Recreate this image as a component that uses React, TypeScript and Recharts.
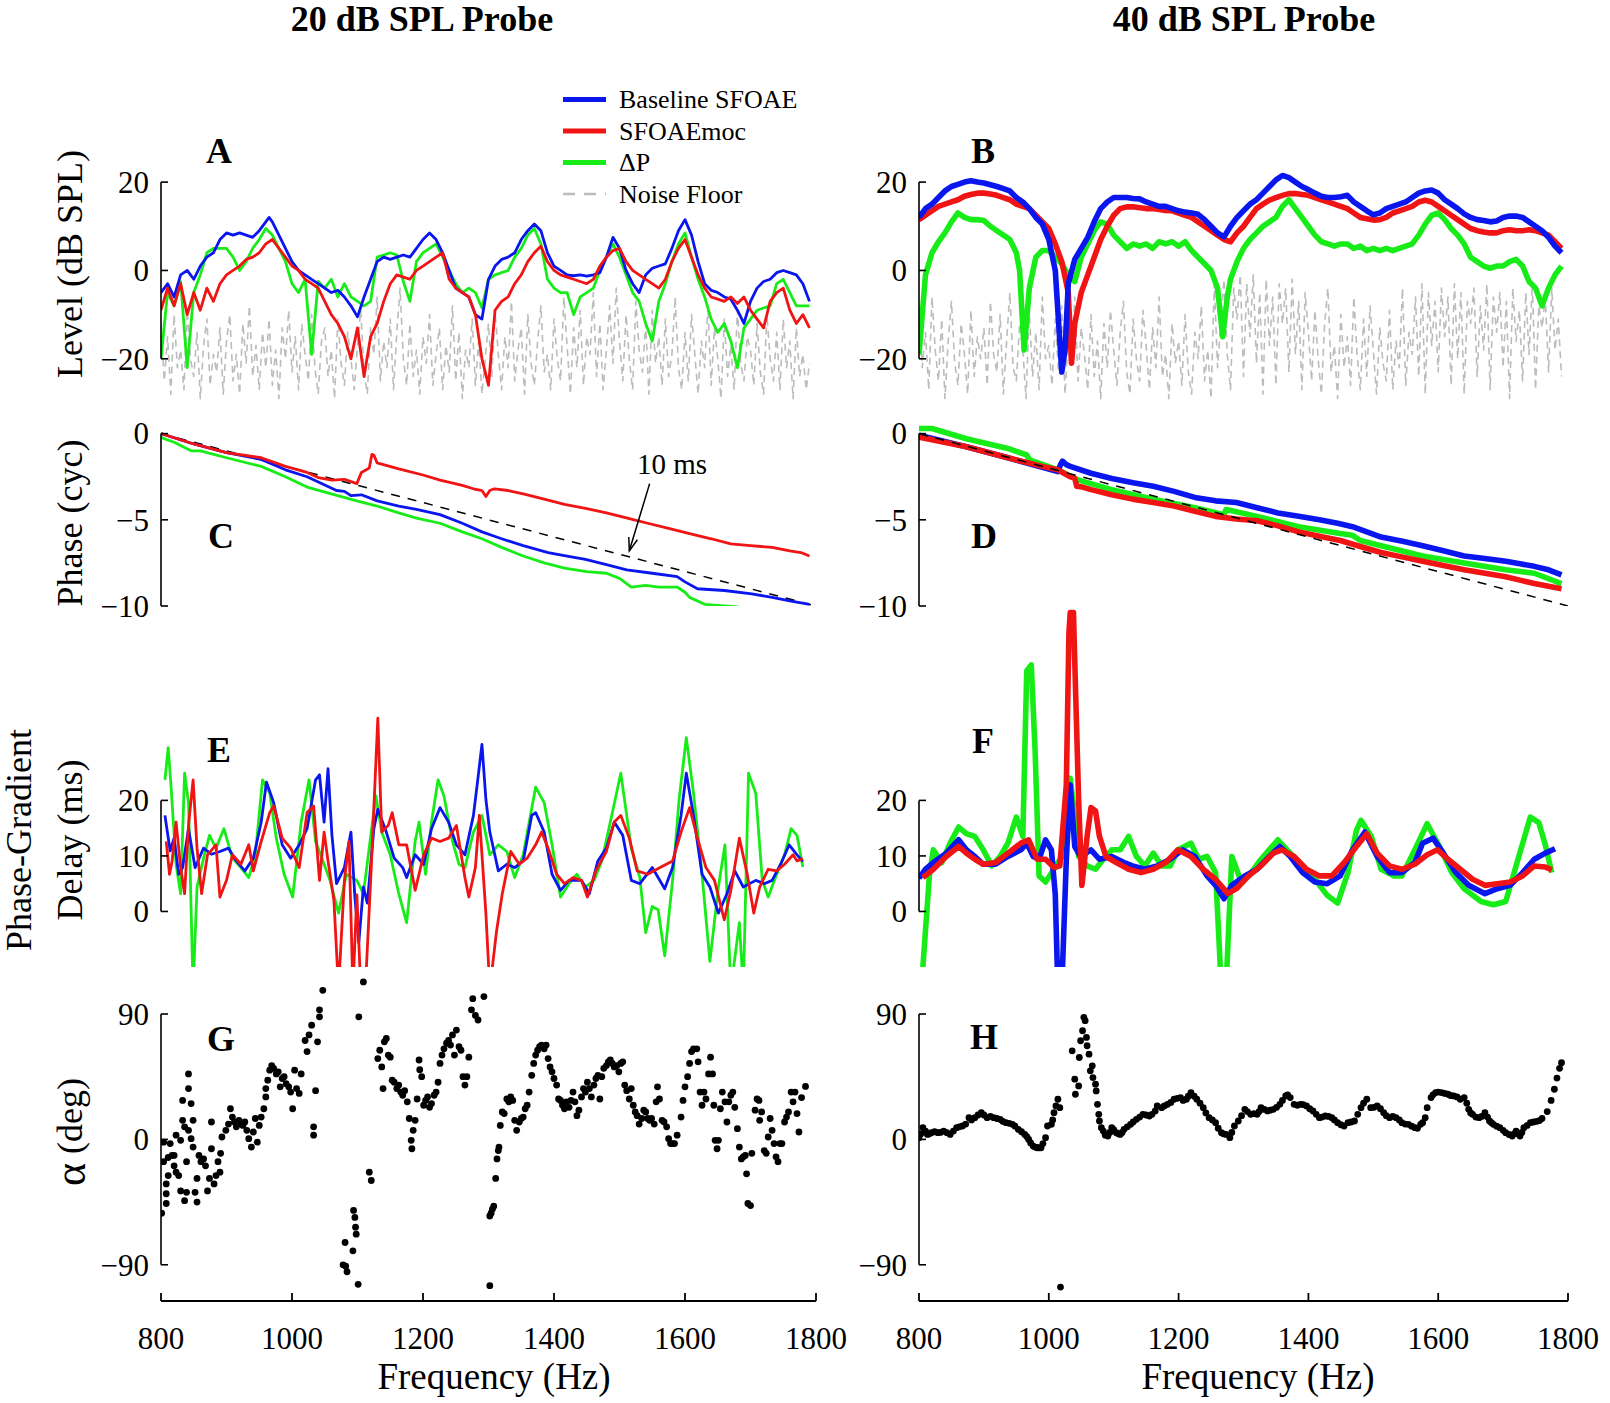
import React from 'react';
import { ComposedChart, Line, Scatter, XAxis, YAxis, ReferenceLine } from 'recharts';

const FONT = '"Liberation Serif", "Times New Roman", serif';
const BLUE = '#0a16ee';
const RED = '#f01414';
const GREEN = '#18ec18';
const GREY = '#bcbcbc';

type Pt = [number, number];

// ---- panel A: 20 dB probe, level (dB SPL) ----
const aBlue: Pt[] = [[800,-5],[810,-3],[820,-6],[830,-1],[840,0],[850,-2],[860,1],[870,3],[880,4],[890,7],[900,8.5],[910,8],[920,8.5],[930,8],[940,7.5],[950,9],[960,11],[965,12],[970,11],[980,8],[990,5],[1000,2],[1010,0],[1020,-1],[1030,-2],[1040,-3],[1050,-4],[1060,-5],[1070,-4.5],[1080,-6],[1090,-8],[1100,-10.5],[1110,-6],[1120,-2],[1130,2],[1140,3],[1150,2.5],[1160,3],[1170,3.5],[1180,3],[1190,5],[1200,7],[1210,8.5],[1220,7],[1230,4],[1240,0],[1250,-4],[1260,-5],[1270,-6],[1280,-10],[1290,-11],[1300,-2],[1310,1],[1320,2.5],[1330,3],[1340,4],[1350,7],[1360,9],[1370,10.5],[1380,9],[1390,4],[1400,1],[1410,0],[1420,-1],[1430,-1.2],[1440,-1],[1450,-1.3],[1460,-1],[1470,-0.5],[1480,3],[1490,7.5],[1500,5],[1510,0],[1520,-3],[1530,-5],[1540,-1],[1550,0.5],[1560,1],[1570,1.5],[1580,5],[1590,9],[1600,11.5],[1610,8],[1620,2],[1630,-3],[1640,-4.5],[1650,-5],[1660,-6],[1670,-6.5],[1680,-9],[1690,-12],[1700,-7],[1710,-4],[1720,-2.5],[1730,-2],[1740,-0.5],[1750,0],[1760,-0.5],[1770,-1],[1780,-3],[1790,-7]];
const aRed: Pt[] = [[800,-9],[810,-4],[820,-8],[830,-3],[840,-10],[850,-5],[860,-9],[870,-4],[880,-7],[890,-3],[900,-1],[910,0],[920,1],[930,2.5],[940,3],[950,4],[960,6],[970,7],[980,5],[990,3],[1000,1],[1010,0],[1020,-2],[1030,-3],[1040,-4],[1050,-7],[1060,-10],[1070,-12],[1080,-15],[1090,-20],[1100,-13],[1110,-24],[1120,-15],[1130,-12],[1140,-7],[1150,-3],[1160,-1],[1170,-1.5],[1180,-2],[1190,0],[1200,1],[1210,2],[1220,3],[1230,4],[1240,-2],[1250,-4],[1260,-5],[1270,-6],[1280,-10],[1290,-20],[1300,-26],[1310,-9],[1320,-7],[1330,-6],[1340,-3],[1350,-1],[1360,2],[1370,4],[1380,5.5],[1390,2],[1400,0],[1410,-1],[1420,-1.5],[1430,-2],[1440,-2.5],[1450,-3],[1460,-2],[1470,1],[1480,3],[1490,4.5],[1500,5],[1510,2],[1520,0],[1530,-1],[1540,-2],[1550,-3],[1560,-4],[1570,-2],[1580,2],[1590,5],[1600,7],[1610,3],[1620,-1],[1630,-4],[1640,-6],[1650,-6.5],[1660,-7],[1670,-6],[1680,-7.5],[1690,-6],[1700,-9],[1710,-11],[1720,-13],[1730,-7],[1740,-5],[1750,-4],[1760,-9],[1770,-12],[1780,-10],[1790,-13]];
const aGreen: Pt[] = [[800,-20],[810,-5],[820,-8],[830,-2.5],[840,-22],[850,-5],[860,-1],[870,4],[880,5],[890,5],[900,5],[910,3],[920,0],[930,2],[940,5],[950,7],[960,9.5],[970,8],[980,5],[990,2],[1000,-3],[1010,-5],[1020,-2],[1030,-19],[1040,-2.5],[1050,-4],[1060,-2],[1070,-6],[1080,-3],[1090,-6],[1100,-7],[1110,-8],[1120,-7],[1130,3],[1140,3.5],[1150,4],[1160,3.5],[1170,-2.5],[1180,-7],[1190,2],[1200,4],[1210,5],[1220,6],[1230,3],[1240,0],[1250,-3],[1260,-5],[1270,-4],[1280,-5],[1290,-8.5],[1300,-2],[1310,-1],[1320,-0.5],[1330,0],[1340,3],[1350,5],[1360,8],[1370,9.5],[1380,6],[1390,-2],[1400,-4],[1410,-5],[1420,-5],[1430,-10],[1440,-6],[1450,-5],[1460,-4],[1470,0],[1480,3],[1490,6],[1500,3],[1510,-1],[1520,-5],[1530,-7],[1540,-12],[1550,-16],[1560,-7],[1570,-3],[1580,2],[1590,6],[1600,8.5],[1610,3],[1620,-2],[1630,-6],[1640,-11],[1650,-14],[1660,-12],[1670,-16],[1680,-22],[1690,-13],[1700,-11],[1710,-9],[1720,-8.5],[1730,-8],[1740,-3],[1750,-2],[1760,-5],[1770,-8],[1780,-8],[1790,-8]];
// noise floor, read every 5 Hz from 800 Hz
const aNoise: number[] = [
  -12,-25,-15,-28,-10,-22,-18,-27,-9,-20,-24,-14,-29,-17,-11,-26,-19,-23,-13,-28,
  -16,-10,-25,-19,-28,-12,-21,-8,-24,-17,-27,-14,-22,-11,-26,-18,-29,-13,-20,-9,
  -23,-15,-27,-12,-19,-25,-10,-22,-28,-16,-13,-24,-18,-29,-11,-21,-26,-14,-20,-27,
  -17,-9,-23,-28,-13,-19,-6,-25,-16,-22,-11,-27,-14,-4,-20,-26,-12,-24,-18,-28,
  -15,-21,-10,-26,-19,-13,-27,-17,-23,-8,-25,-14,-29,-18,-22,-11,-26,-16,-28,-20,
  -12,-24,-9,-19,-27,-15,-22,-7,-25,-18,-13,-28,-10,-21,-26,-16,-8,-23,-19,-27,
  -11,-20,-25,-6,-17,-28,-13,-22,-9,-26,-15,-19,-5,-24,-12,-27,-18,-8,-21,-4,
  -16,-25,-10,-20,-27,-7,-18,-23,-12,-28,-9,-21,-15,-26,-11,-24,-19,-6,-22,-27,
  -14,-25,-10,-19,-28,-16,-22,-8,-26,-13,-20,-29,-11,-24,-17,-27,-9,-21,-25,-15,
  -18,-26,-12,-23,-28,-10,-20,-25,-14,-27,-11,-22,-16,-29,-13,-24,-19,-27,-21,
];

// ---- panel B: 40 dB probe, level ----
const bBlue: Pt[] = [[800,12],[810,14],[820,15],[830,16.5],[840,18],[850,19],[860,19.5],[870,20],[880,20.3],[890,20],[900,19.8],[910,19.4],[920,19],[930,18.5],[940,18],[950,16.5],[960,15.5],[970,14],[980,12],[990,10.5],[1000,7],[1010,0],[1020,-23],[1025,-18],[1030,-3],[1040,2.5],[1050,5],[1060,7.5],[1070,11],[1080,14],[1090,15.5],[1100,16.5],[1110,16.5],[1120,16.5],[1130,16.3],[1140,16.2],[1150,15.5],[1160,15],[1170,14.5],[1180,14.5],[1190,14],[1200,13.5],[1210,13.2],[1220,13],[1230,12.7],[1240,11.5],[1250,10],[1260,8.5],[1270,7.6],[1280,10],[1290,12],[1300,13.5],[1310,15],[1320,16],[1330,17.5],[1340,19],[1350,20.5],[1360,21.5],[1370,21],[1380,20],[1390,19],[1400,18.3],[1410,17.5],[1420,16.8],[1430,16.5],[1440,16.5],[1450,16.7],[1460,17],[1470,15.5],[1480,14.5],[1490,13.5],[1500,12.6],[1510,13],[1520,14],[1530,14.5],[1540,15],[1550,15.5],[1560,16.5],[1570,17.5],[1580,18],[1590,18.2],[1600,17.5],[1610,16],[1620,15],[1630,14],[1640,12.8],[1650,12],[1660,11.5],[1670,11.3],[1680,11],[1690,11.2],[1700,12],[1710,12.3],[1720,12.3],[1730,12],[1740,11],[1750,10],[1760,9],[1770,7.5],[1780,5.5],[1790,4]];
const bRed: Pt[] = [[800,11.5],[810,12.5],[820,13.5],[830,14.5],[840,15],[850,15.5],[860,16],[870,16.8],[880,17.2],[890,17.5],[900,17.5],[910,17.3],[920,17],[930,16.5],[940,16],[950,15],[960,14.5],[970,14],[980,12.5],[990,11],[1000,9.5],[1010,6],[1020,2],[1030,-5],[1035,-21],[1040,-12],[1050,-5],[1060,-1],[1070,3],[1080,7],[1090,10],[1100,12.5],[1110,14],[1120,14.4],[1130,14.4],[1140,14.2],[1150,14],[1160,14],[1170,13.8],[1180,13.6],[1190,13.5],[1200,13],[1210,12.5],[1220,12],[1230,11],[1240,10],[1250,9],[1260,8],[1270,7],[1280,6.5],[1290,8.5],[1300,10],[1310,12],[1320,14],[1330,15],[1340,15.9],[1350,16.5],[1360,17],[1370,17.4],[1380,17.4],[1390,17.2],[1400,17],[1410,16.5],[1420,16],[1430,15.5],[1440,15],[1450,14.5],[1460,14],[1470,13],[1480,12],[1490,11.7],[1500,11.4],[1510,11.5],[1520,12],[1530,13],[1540,13.5],[1550,14],[1560,14.5],[1570,15.5],[1580,15.9],[1590,15.5],[1600,14.5],[1610,13.5],[1620,12.5],[1630,11.5],[1640,10.5],[1650,9.5],[1660,9],[1670,8.7],[1680,8.5],[1690,8.5],[1700,9],[1710,9.2],[1720,9],[1730,9],[1740,9.2],[1750,9],[1760,8.5],[1770,8],[1780,6.5],[1790,5]];
const bGreen: Pt[] = [[800,-19],[805,-10],[810,-1],[820,4],[830,6.5],[840,8.5],[850,11],[860,13],[870,12],[880,11.5],[890,11.5],[900,11.3],[910,10],[920,9],[930,8],[940,7],[950,4],[955,0],[962,-18],[970,-4],[980,3],[990,4.5],[1000,4.5],[1010,3],[1020,1.5],[1030,-1],[1040,-2.5],[1050,3],[1060,6],[1070,9],[1080,11],[1090,10.5],[1100,8],[1110,6.5],[1120,5],[1130,6],[1140,5.5],[1150,6],[1160,5],[1170,6.5],[1180,6],[1190,6.5],[1200,5.5],[1210,6.5],[1220,4.5],[1230,3],[1240,1.5],[1250,0],[1260,-4],[1268,-15],[1275,-6],[1280,-2],[1290,2],[1300,5],[1310,7],[1320,8.5],[1330,10],[1340,11],[1350,12],[1360,14.5],[1370,16],[1380,14],[1390,12],[1400,10],[1410,8],[1420,6.5],[1430,6],[1440,5.5],[1450,6],[1460,6],[1470,5],[1480,5.5],[1490,4.5],[1500,5],[1510,4.5],[1520,5],[1530,4.5],[1540,5],[1550,5.5],[1560,6],[1570,8],[1580,10.5],[1590,12.5],[1600,13],[1610,11.5],[1620,9.5],[1630,8],[1640,6],[1650,3],[1660,2],[1670,1],[1680,0.5],[1690,1],[1700,1],[1710,2],[1720,2.5],[1730,1],[1740,-2.5],[1750,-4],[1760,-8],[1770,-4],[1780,-1],[1790,1]];
const bNoise: number[] = [
  -8,-22,-14,-27,-6,-18,-25,-11,-29,-16,-7,-21,-26,-12,-19,-28,-9,-24,-15,-20,
  -13,-26,-7,-19,-23,-10,-28,-16,-5,-22,-25,-12,-18,-29,-9,-24,-14,-27,-6,-20,
  -17,-26,-11,-23,-8,-28,-15,-21,-6,-25,-13,-19,-27,-10,-24,-16,-29,-12,-22,-9,
  -18,-26,-14,-7,-23,-28,-11,-20,-25,-9,-17,-27,-13,-22,-6,-24,-19,-29,-12,-21,
  -16,-26,-10,-23,-28,-14,-20,-8,-25,-18,-29,-3,-22,-12,-2,-19,-27,-4,-11,-1,
  -24,-3,-15,-1,-21,-5,-28,-2,-17,-6,-26,-3,-12,-4,-23,-2,-19,-7,-27,-5,
  -14,-25,-9,-20,-28,-12,-4,-23,-17,-29,-10,-22,-15,-26,-6,-19,-27,-11,-24,-8,
  -18,-28,-13,-21,-25,-9,-27,-16,-22,-4,-26,-14,-19,-6,-24,-3,-28,-5,-17,-7,
  -23,-4,-15,-6,-26,-3,-20,-5,-28,-7,-12,-4,-24,-8,-18,-3,-27,-6,-14,-5,
  -22,-7,-29,-4,-16,-9,-25,-5,-19,-3,-27,-8,-13,-6,-23,-4,-18,-11,-24,
];

// ---- panels C and D: phase (cycles) ----
const cBlue: Pt[] = [[800,0],[850,-0.6],[900,-1.1],[953,-1.5],[990,-2.1],[1023,-2.5],[1068,-3.3],[1080,-3.35],[1090,-3.6],[1106,-3.55],[1130,-3.9],[1163,-4.2],[1190,-4.4],[1226,-4.7],[1260,-5.2],[1290,-5.7],[1320,-6.1],[1353,-6.5],[1391,-6.9],[1420,-7.1],[1448,-7.3],[1480,-7.6],[1511,-7.9],[1550,-8.1],[1588,-8.3],[1600,-8.6],[1619,-9],[1660,-9.1],[1702,-9.3],[1733,-9.5],[1760,-9.7],[1790,-9.9]];
const cRed: Pt[] = [[800,0],[850,-0.6],[900,-1.1],[953,-1.4],[990,-1.9],[1023,-2.25],[1040,-2.55],[1061,-2.7],[1080,-2.65],[1099,-2.9],[1106,-2.25],[1118,-2],[1122,-1.2],[1125,-1.25],[1130,-1.7],[1163,-2.05],[1200,-2.4],[1226,-2.7],[1260,-3],[1277,-3.2],[1290,-3.3],[1296,-3.65],[1302,-3.3],[1309,-3.2],[1330,-3.3],[1353,-3.5],[1385,-3.8],[1416,-4.1],[1450,-4.35],[1480,-4.6],[1512,-4.9],[1543,-5.2],[1575,-5.5],[1607,-5.8],[1640,-6.1],[1670,-6.4],[1700,-6.5],[1733,-6.6],[1760,-6.8],[1777,-6.9],[1790,-7.1]];
const cGreen: Pt[] = [[800,-0.2],[805,-0.3],[820,-0.5],[846,-1],[860,-1],[900,-1.4],[953,-1.9],[990,-2.5],[1023,-3.1],[1060,-3.5],[1099,-3.9],[1130,-4.2],[1163,-4.6],[1190,-4.9],[1226,-5.2],[1260,-5.7],[1290,-6.1],[1320,-6.6],[1353,-7.1],[1385,-7.5],[1416,-7.8],[1450,-8],[1480,-8.1],[1500,-8.4],[1518,-8.9],[1540,-8.8],[1560,-8.9],[1588,-8.9],[1600,-9.2],[1607,-9.5],[1630,-9.9],[1680,-10.05],[1700,-10.3],[1790,-11]];
const dBlue: Pt[] = [[800,-0.1],[873,-0.76],[937,-1.4],[990,-1.95],[1014,-2.2],[1018,-1.8],[1021,-1.6],[1027,-1.8],[1033,-1.9],[1065,-2.3],[1097,-2.6],[1130,-2.85],[1161,-3.05],[1193,-3.35],[1225,-3.7],[1257,-3.9],[1289,-4],[1321,-4.3],[1353,-4.6],[1385,-4.8],[1417,-5],[1445,-5.2],[1468,-5.4],[1490,-5.7],[1512,-6],[1545,-6.25],[1576,-6.5],[1608,-6.8],[1640,-7.1],[1672,-7.25],[1704,-7.4],[1726,-7.55],[1748,-7.7],[1770,-7.9],[1790,-8.2]];
const dRed: Pt[] = [[800,-0.2],[873,-0.76],[937,-1.4],[990,-1.9],[1014,-2.1],[1033,-2.5],[1040,-2.6],[1043,-3.05],[1052,-3.1],[1065,-3.25],[1097,-3.55],[1129,-3.8],[1161,-4],[1193,-4.2],[1225,-4.5],[1257,-4.8],[1289,-4.95],[1321,-5.05],[1353,-5.35],[1385,-5.7],[1417,-5.95],[1449,-6.2],[1480,-6.55],[1512,-6.9],[1544,-7.15],[1576,-7.4],[1608,-7.65],[1640,-7.9],[1672,-8.1],[1704,-8.3],[1726,-8.5],[1748,-8.7],[1770,-8.85],[1790,-9]];
const dGreen: Pt[] = [[800,0.3],[820,0.3],[873,-0.3],[937,-0.86],[966,-1.24],[970,-1.5],[976,-1.6],[1014,-2.1],[1046,-2.7],[1097,-3.25],[1161,-3.8],[1225,-4.3],[1270,-4.7],[1273,-4.4],[1321,-4.8],[1385,-5.4],[1449,-5.8],[1468,-5.9],[1480,-6.2],[1512,-6.5],[1576,-7.1],[1640,-7.5],[1704,-7.9],[1748,-8.1],[1790,-8.7]];
// 10 ms reference slope
const slope10ms: Pt[] = [[800,0],[1800,-10]];

// ---- panels E and F: phase-gradient delay (ms) ----
const eBlue: Pt[] = [[806,17.3],[814,10.9],[820,13.2],[827,6.7],[833,7.9],[842,14.9],[852,7.9],[865,11.4],[877,10.3],[890,10.8],[903,11.4],[915,9.1],[928,7.3],[941,9.6],[953,16.1],[961,23.3],[972,19.6],[985,12],[998,9.6],[1011,12],[1023,14.9],[1036,23.7],[1042,24.6],[1049,16.1],[1055,25.7],[1061,13.7],[1068,5],[1080,7.9],[1090,14.3],[1096,2.6],[1102,-5.6],[1109,4.4],[1115,1.5],[1125,14.9],[1131,18.4],[1144,14.3],[1156,9.6],[1169,7.9],[1175,6.1],[1188,10.2],[1201,8.5],[1213,14.9],[1226,18.7],[1239,16.1],[1251,12],[1264,10.2],[1277,17.3],[1283,23.1],[1290,30.1],[1296,20.2],[1302,14.3],[1315,7.3],[1328,8.5],[1340,7.9],[1353,9.1],[1366,17.3],[1372,17.8],[1385,14.3],[1397,6.7],[1410,3.8],[1423,5.6],[1442,5.6],[1454,3.2],[1467,9.1],[1480,11.4],[1492,16.1],[1505,13.7],[1518,5.6],[1531,5],[1550,7.9],[1569,4.1],[1581,7.9],[1594,17.3],[1602,24.9],[1613,17.3],[1626,6.7],[1638,4.4],[1651,-0.3],[1664,3.2],[1676,7.3],[1689,4.4],[1708,5.6],[1721,5],[1733,5.6],[1746,8.5],[1759,12],[1771,10.2],[1780,9]];
const eRed: Pt[] = [[808,12.6],[813,6.7],[817,9.1],[823,16.1],[830,7.9],[836,3.2],[842,15.5],[849,23.7],[855,11.4],[862,3.2],[871,10.2],[884,12],[890,2.6],[900,5.6],[909,10.2],[922,8.5],[934,12],[941,7.3],[953,12.6],[966,17.8],[972,19],[985,13.2],[998,11.4],[1011,7.9],[1023,17.8],[1033,19],[1042,5.6],[1049,14.3],[1055,9.1],[1064,2],[1071,-14],[1080,5.6],[1087,12.6],[1093,-14],[1099,3],[1105,-14],[1112,-14],[1121,7.9],[1131,34.8],[1137,14.3],[1147,15.5],[1153,17.8],[1163,12],[1175,12],[1188,3.8],[1201,10.2],[1213,13.2],[1226,12.6],[1239,13.2],[1251,15.5],[1264,6.1],[1270,2.6],[1280,7.9],[1286,17.3],[1296,-0.3],[1302,-14],[1312,-3.8],[1321,3.2],[1334,10.8],[1347,8.5],[1359,9.6],[1372,12],[1381,14.3],[1391,11.4],[1404,6.7],[1416,5],[1429,6.1],[1442,5.6],[1451,2.6],[1464,7.3],[1480,10.8],[1492,16.1],[1502,17.3],[1515,13.2],[1527,7.3],[1543,6.7],[1562,7.9],[1581,9.1],[1594,14.3],[1607,18.7],[1619,13.2],[1632,7.9],[1645,5.6],[1660,-1.5],[1670,3.8],[1683,13.2],[1695,6.7],[1705,-0.3],[1714,4.4],[1727,7.6],[1740,7.3],[1752,8.5],[1765,10.2],[1771,9.1],[1780,9.5]];
const eGreen: Pt[] = [[806,23.7],[811,29.5],[815,23.1],[823,8.5],[830,3.2],[836,24.9],[842,19.6],[849,-14],[855,4.4],[865,9.6],[874,13.7],[884,11.4],[896,14.9],[909,9.6],[922,7.9],[934,6.1],[944,10.2],[955,23.7],[966,21.3],[976,13.2],[988,6.7],[1001,2.6],[1014,16.1],[1026,23.7],[1036,12.6],[1049,8.5],[1058,5.6],[1071,-0.3],[1083,6.7],[1099,5.6],[1109,3.2],[1121,14.3],[1128,20.8],[1137,14.3],[1150,10.2],[1163,3.2],[1175,-2],[1188,12.6],[1194,16.1],[1204,6.7],[1213,16.1],[1223,23.7],[1232,20.8],[1245,12.6],[1255,8.5],[1264,7.9],[1277,14.3],[1290,17.3],[1302,10.2],[1315,12],[1328,10.8],[1340,6.1],[1353,10.2],[1372,22.4],[1385,19.6],[1397,12],[1410,2.6],[1423,5],[1435,6.7],[1448,4.4],[1461,5.6],[1473,9.1],[1486,16.1],[1502,24.9],[1518,11.4],[1531,6.1],[1540,-3.8],[1550,0.9],[1559,0.3],[1569,-8],[1581,5.6],[1591,20.2],[1602,31.3],[1613,21.3],[1626,6.7],[1638,-9],[1651,4.4],[1661,12],[1670,-14],[1683,-2],[1689,-14],[1697,24.9],[1708,21.3],[1718,5.6],[1727,2.6],[1740,6.7],[1752,10.2],[1762,14.9],[1771,13.7],[1780,8]];
const fBlue: Pt[] = [[800,6],[810,7.6],[822,8.8],[842,10.5],[861,12.9],[873,11.1],[886,9.9],[899,8.5],[918,8.5],[937,9.9],[957,11.1],[966,12.3],[976,9.9],[985,9.4],[995,12.9],[1004,11.1],[1010,3],[1014,-14],[1020,-14],[1027,9.4],[1033,22.8],[1040,11.7],[1049,9.9],[1065,11.1],[1078,9.4],[1097,9.9],[1116,8.8],[1129,8.2],[1148,7.6],[1167,8.2],[1187,9.4],[1206,11.1],[1225,9.9],[1244,6.4],[1257,4.7],[1270,2.3],[1282,4.7],[1302,6.4],[1321,7.6],[1340,9.9],[1356,11.7],[1372,9.9],[1391,7],[1410,5.3],[1429,5],[1449,6.4],[1468,11.1],[1487,14.3],[1506,9.9],[1525,7],[1544,7],[1564,8.8],[1576,12.3],[1592,13.2],[1608,10.5],[1627,7],[1647,4.7],[1672,3.2],[1691,4.1],[1711,4.7],[1730,7],[1748,9.4],[1765,10.5],[1780,11.3]];
const fRed: Pt[] = [[806,6.1],[822,7.6],[842,9.9],[861,11.7],[873,10.5],[886,9.4],[899,8.5],[918,8.8],[937,10.5],[957,12.3],[969,12.9],[982,9.4],[995,9.4],[1008,7.9],[1017,8.2],[1027,22.8],[1031,50],[1033,53.8],[1038,53.8],[1040,45],[1046,19.9],[1051,4.7],[1059,13.5],[1065,18.7],[1072,18.1],[1078,13.5],[1088,9.9],[1104,8.8],[1123,7.6],[1142,7],[1161,7.6],[1180,8.8],[1199,11.1],[1219,9.9],[1238,7.6],[1257,5.8],[1276,3.2],[1289,4.1],[1308,6.4],[1327,8.2],[1346,10.5],[1359,11.1],[1378,9.9],[1397,7.6],[1417,6.4],[1436,6.4],[1455,8.8],[1474,11.7],[1490,14],[1506,10.5],[1525,8.2],[1544,7.6],[1564,8.5],[1583,10.2],[1599,11.1],[1615,9.4],[1634,7.6],[1653,5.8],[1672,4.7],[1691,5],[1711,5.3],[1730,6.4],[1748,8.2],[1765,8],[1775,7.5]];
const fGreen: Pt[] = [[800,-14],[806,-10],[816,6.4],[822,11.1],[835,8.8],[848,12.3],[861,15.2],[873,14],[886,13.5],[899,11.1],[912,8.2],[925,9.9],[937,12.3],[950,17],[960,13.5],[966,43.3],[973,44.4],[979,28.7],[985,6.4],[995,5.3],[1008,7.6],[1020,9.9],[1033,24],[1040,17],[1046,9.9],[1059,8.2],[1072,7.6],[1084,9.4],[1097,11.1],[1110,11.1],[1123,13.5],[1135,9.9],[1148,8.2],[1161,10.5],[1174,8.2],[1187,8.2],[1199,11.1],[1219,12.3],[1231,9.4],[1244,9.9],[1257,7],[1266,-14],[1273,-14],[1282,9.9],[1295,5.8],[1308,6.4],[1327,9.4],[1353,12.9],[1372,10.5],[1391,8.2],[1410,5.8],[1429,2.9],[1445,1.5],[1461,7],[1474,14.6],[1481,16.4],[1497,13.5],[1512,7.6],[1532,6.4],[1544,6.4],[1564,11.1],[1583,15.8],[1602,11.7],[1621,7],[1640,4.1],[1666,1.8],[1685,1.2],[1704,1.8],[1723,9.4],[1742,17],[1755,16],[1765,12],[1775,7]];

// ---- panels G and H: alpha (deg) ----
const gAlpha: Pt[] = [[801,-53],[804,-16],[804,-2],[808,-32],[808,-39],[808,-46],[811,-26],[811,-13],[814,-3],[817,-11.5],[820,-11.5],[820,-19],[823,3],[823,-23.5],[827,-26],[830,-37],[830,-0.7],[833,28],[833,13.7],[836,9],[836,-44],[839,-38],[839,-16],[842,47],[842,36.5],[842,6.5],[846,25.7],[846,0.5],[849,13.7],[849,-5.5],[852,-38],[855,-28],[855,-45],[858,-11.5],[861,-16],[865,-14],[868,-19],[871,-37],[874,-28],[877,12.5],[877,-6.7],[881,-32],[884,-26],[887,-16],[890,-23.5],[891,-10],[893,1.7],[899,6.5],[903,11],[906,22],[909,16],[912,12.5],[915,9],[919,13.7],[922,11],[925,10],[928,12.5],[931,6.5],[934,0.5],[938,-5.5],[941,5.3],[944,15],[947,-2],[950,10],[953,16],[957,22],[960,30.5],[960,36.5],[963,42.5],[966,49.7],[969,53],[972,51],[976,47],[979,48.5],[982,37.7],[985,43.7],[988,45],[991,40],[995,37.7],[998,34],[1001,22],[1004,49.7],[1007,36.5],[1011,33],[1014,47],[1020,71],[1023,63],[1026,75],[1030,82],[1033,9],[1033,3],[1036,35],[1039,70],[1042,93],[1042,88],[1047,107],[1078,-90],[1082,-91],[1084,-95],[1081,-74],[1093,-80],[1094,-51],[1096,-56],[1097,-63],[1098,-68],[1101,-104],[1102,88],[1109,113],[1118,-23.5],[1121,-29.5],[1131,58],[1134,64],[1137,52],[1139,36.5],[1141,70],[1144,72.5],[1147,60.5],[1150,59],[1153,42.5],[1156,41],[1160,36.5],[1163,39],[1166,34],[1169,31.7],[1172,35],[1176,27],[1179,15],[1182,-0.7],[1183,-6.7],[1185,6.5],[1188,13.7],[1191,29],[1194,57],[1195,50],[1198,45],[1201,24.5],[1204,28],[1207,30.5],[1210,23],[1213,25.7],[1217,31.7],[1220,34],[1223,41],[1226,54.5],[1229,60.5],[1232,65],[1236,69],[1239,71],[1242,67.7],[1245,75],[1248,60.5],[1251,78.5],[1255,66.5],[1258,64],[1261,45],[1264,39],[1267,45],[1270,59],[1274,93],[1276,101],[1280,89],[1284,85.7],[1293,102.5],[1302,-105],[1302,-55],[1304,-53],[1306,-50],[1308,-48],[1311,-28],[1313,-14],[1315,-8],[1316,-5.5],[1318,10],[1321,19.7],[1324,18.5],[1328,29],[1331,27],[1334,30.5],[1337,28],[1340,13.7],[1343,6.5],[1347,12.5],[1350,15],[1353,16],[1356,22],[1359,24.5],[1362,34],[1366,46],[1369,54.5],[1372,60.5],[1375,64],[1378,66.5],[1381,67.7],[1385,65],[1388,67.7],[1391,58],[1394,52],[1397,48.5],[1400,43.7],[1404,39],[1407,29],[1410,28],[1413,24.5],[1416,22],[1419,27],[1423,23],[1426,28],[1429,34],[1432,27],[1435,17],[1438,21],[1442,30.5],[1445,36.5],[1448,34],[1451,41],[1454,36.5],[1457,30.5],[1461,39],[1464,43.7],[1467,46],[1470,29],[1473,45],[1476,51],[1480,53],[1483,55.7],[1486,57],[1489,54.5],[1492,52],[1496,53],[1499,48.5],[1502,54.5],[1505,55.7],[1508,39],[1511,35],[1515,29],[1518,36.5],[1521,24.5],[1524,19.7],[1527,17],[1530,11],[1534,15],[1537,21],[1540,19.7],[1543,15],[1546,13.7],[1549,15],[1553,11],[1556,27],[1558,37.7],[1561,29],[1565,13.7],[1568,12.5],[1572,9],[1575,0.5],[1578,-3],[1581,-3],[1584,-3],[1588,3],[1594,16],[1597,28],[1600,37.7],[1604,45],[1607,54.5],[1610,63],[1613,65],[1618,65],[1620,55.7],[1623,34],[1626,24.5],[1629,34],[1632,29],[1636,47],[1639,59],[1642,47],[1644,24.5],[1646,-0.7],[1649,-6.7],[1651,-0.7],[1654,22],[1657,34],[1661,27],[1664,12.5],[1667,27],[1670,31.7],[1673,34],[1676,23],[1680,7.7],[1683,-5.5],[1686,-14],[1689,-12.5],[1692,-11.5],[1694,-24.7],[1696,-46],[1700,-47.5],[1702,-10],[1707,21],[1710,29],[1713,28],[1714,13.7],[1717,19.7],[1721,-8],[1724,-10],[1727,1.7],[1730,15],[1733,6.5],[1736,-3],[1739,-12.5],[1742,-16],[1745,-3],[1748,-3],[1752,12.5],[1755,16],[1758,19.7],[1762,34],[1765,27],[1768,34],[1771,18.5],[1774,5.3],[1778,30],[1784,38]];
const hAlpha: Pt[] = [[800,1.2],[803,4],[806,8.4],[810,6],[813,3.6],[816,4],[819,4.8],[824,5.5],[829,4.8],[833,5],[838,6],[843,4.8],[848,3.6],[853,6],[858,8.4],[862,9],[867,9.6],[872,11],[877,15.6],[881,14],[886,15.6],[891,17.5],[896,19.2],[900,17.5],[905,15.6],[910,16.5],[915,15.6],[920,15],[925,14.4],[929,13],[934,12],[939,11.5],[944,10.8],[948,9.5],[953,7.2],[958,5.5],[963,3.6],[966,2],[969,0],[972,-2.5],[976,-4.8],[979,-5.5],[982,-6],[985,-6],[988,-6],[991,-3],[995,1.2],[998,9.6],[1004,10.8],[1006,14],[1008,19.2],[1011,24],[1014,28.8],[1017,22.8],[1036,63.6],[1040,43.2],[1041,32.4],[1046,38.4],[1047,58.8],[1049,70.8],[1052,78],[1054,87.6],[1056,85.2],[1058,73.2],[1059,67.2],[1062,61.2],[1064,49.2],[1067,52.8],[1068,44.4],[1072,39.6],[1073,34.8],[1075,25.2],[1077,18],[1078,13.2],[1081,8.4],[1084,6],[1087,3],[1091,2.4],[1094,5],[1097,8.4],[1100,7],[1104,4.8],[1107,4],[1110,3.6],[1113,5],[1116,7.2],[1121,9],[1126,10.8],[1130,12.5],[1135,14.4],[1140,16],[1145,18],[1150,17.5],[1155,16.8],[1159,18],[1164,20.4],[1167,24],[1174,22.8],[1178,24],[1183,25.2],[1188,26.5],[1193,28.8],[1198,29.5],[1203,30],[1207,28],[1212,28.8],[1215,31],[1219,33.6],[1224,31],[1228,28.8],[1233,26],[1238,22.8],[1242,19],[1247,15.6],[1252,14],[1257,12],[1261,8],[1266,4.8],[1269,4],[1273,3.6],[1279,1.2],[1282,5],[1286,9.6],[1292,13.2],[1297,17],[1302,21.6],[1306,20],[1311,18],[1316,18.5],[1321,18],[1324,20],[1327,22.8],[1332,21.5],[1337,20.4],[1341,21],[1346,21.6],[1351,23],[1356,25.2],[1360,28],[1365,31.2],[1368,32],[1372,30],[1378,25.2],[1383,24.5],[1388,25.2],[1392,25],[1397,24],[1402,22],[1407,20.4],[1412,18],[1417,15.6],[1421,16],[1426,16.8],[1431,16.5],[1436,15.6],[1440,14],[1445,12],[1450,10.5],[1455,9.6],[1461,12],[1466,12.5],[1471,13.2],[1476,18],[1481,22.8],[1485,26],[1490,28.8],[1496,22.8],[1501,23],[1506,24],[1511,22],[1516,19.2],[1520,17],[1525,15.6],[1530,16.5],[1535,15.6],[1540,14],[1544,12],[1549,11],[1554,10.8],[1559,9.5],[1564,8.4],[1568,8],[1573,10.8],[1576,12],[1580,15.6],[1583,22.8],[1589,30],[1592,32],[1596,33.6],[1600,34],[1605,33.6],[1610,33],[1615,32.4],[1619,31.5],[1624,31.2],[1629,30.5],[1634,28.8],[1640,30],[1644,26],[1647,21.6],[1650,19],[1653,18],[1658,16],[1663,15.6],[1667,16.5],[1672,19.2],[1676,16],[1679,13.2],[1682,12],[1685,10.8],[1690,9.5],[1695,8.4],[1700,6.5],[1704,4.8],[1709,3.5],[1714,2.4],[1717,4],[1720,6],[1723,4],[1726,2.4],[1729,5],[1732,8.4],[1737,10],[1742,12],[1747,12.5],[1752,13],[1756,13.5],[1760,15],[1768,20],[1774,28],[1779,36],[1783,44],[1787,51],[1790,55],[1018,-106]];

const freqTicks = [800, 1000, 1200, 1400, 1600, 1800];

type Row = { x: number; y: number };
const rows = (pts: Pt[]): Row[] => pts.map(([x, y]) => ({ x, y }));
const noiseRows = (vals: number[]): Row[] => vals.map((y, i) => ({ x: 800 + i * 5, y }));

const fmt = (v: number) => (v < 0 ? '\u2212' + Math.abs(v) : String(v));

const YW = 70; // y axis gutter
const PAD = 22;
const RPAD = 44;
const TM = 12; // gap between tick label and axis
const XTM = 24;

type Series = { data: Row[]; color: string; width: number; dash?: string };

type PanelProps = {
  left: number;
  top: number;
  width: number;
  height: number;
  domain: [number, number];
  ticks: number[];
  lines?: Series[];
  dots?: Row[];
  bottom?: boolean;
  arrow?: { from: Pt; to: Pt };
};

const yTick = (p: any) => (
  <g>
    <text x={p.x} y={p.y} dy="0.35em" textAnchor="end" fontSize={31} fontFamily={FONT} style={{ fontFamily: FONT }} fill="#000">
      {fmt(p.payload.value)}
    </text>
    <line x1={p.x + TM} x2={p.x + TM + 7} y1={p.y} y2={p.y} stroke="#000" strokeWidth={1.6} />
  </g>
);

const xTick = (p: any) => (
  <g>
    <text x={p.x} y={p.y} dy="0.78em" textAnchor="middle" fontSize={31} fontFamily={FONT} style={{ fontFamily: FONT }} fill="#000">
      {p.payload.value}
    </text>
    <line x1={p.x} x2={p.x} y1={p.y - XTM} y2={p.y - XTM - 8} stroke="#000" strokeWidth={1.8} />
  </g>
);

const arrowShape = (p: any) => {
  const { x1, y1, x2, y2 } = p;
  const ang = Math.atan2(y2 - y1, x2 - x1);
  const L = 13;
  const W = 4.5;
  const bx = x2 - L * Math.cos(ang);
  const by = y2 - L * Math.sin(ang);
  const px = -Math.sin(ang) * W;
  const py = Math.cos(ang) * W;
  return (
    <g>
      <line x1={x1} y1={y1} x2={x2} y2={y2} stroke="#000" strokeWidth={1.5} />
      <polyline points={`${bx + px},${by + py} ${x2},${y2} ${bx - px},${by - py}`} fill="none" stroke="#000" strokeWidth={1.5} />
    </g>
  );
};

const dotShape = (p: any) => <circle cx={p.cx} cy={p.cy} r={3.4} fill="#000" />;

function Panel({ left, top, width, height, domain, ticks, lines = [], dots, bottom, arrow }: PanelProps) {
  const XH = 80;
  const boxW = YW + width + RPAD;
  const boxH = PAD + height + (bottom ? XH : PAD);
  const lo = ticks[0];
  const hi = ticks[ticks.length - 1];
  return (
    <div style={{ position: 'absolute', left: left - YW, top: top - PAD }}>
      <ComposedChart width={boxW} height={boxH} margin={{ top: PAD, right: RPAD, bottom: bottom ? 0 : PAD, left: 0 }}>
        <XAxis
          xAxisId={0}
          type="number"
          dataKey="x"
          domain={[800, 1800]}
          ticks={freqTicks}
          interval={0}
          allowDataOverflow
          hide={!bottom}
          height={XH}
          tickSize={0}
          tickMargin={XTM}
          tickLine={false}
          tick={xTick}
          axisLine={{ stroke: '#000', strokeWidth: 2 }}
        />
        <YAxis
          yAxisId={0}
          type="number"
          dataKey="y"
          width={YW}
          domain={domain}
          ticks={ticks}
          interval={0}
          allowDataOverflow
          axisLine={false}
          tickLine={false}
          tickSize={0}
          tickMargin={TM}
          tick={yTick}
        />
        {lines.map((s, i) => (
          <Line
            key={i}
            data={s.data}
            dataKey="y"
            type="linear"
            stroke={s.color}
            strokeWidth={s.width}
            strokeDasharray={s.dash}
            strokeLinejoin="round"
            dot={false}
            activeDot={false}
            isAnimationActive={false}
          />
        ))}
        {dots && <Scatter data={dots} fill="#000" shape={dotShape} isAnimationActive={false} />}
        <ReferenceLine
          segment={[{ x: 800, y: lo }, { x: 800, y: hi }]}
          stroke="#000"
          strokeWidth={1.6}
          ifOverflow="visible"
        />
        {arrow && (
          <ReferenceLine
            segment={[{ x: arrow.from[0], y: arrow.from[1] }, { x: arrow.to[0], y: arrow.to[1] }]}
            ifOverflow="visible"
            shape={arrowShape}
          />
        )}
      </ComposedChart>
    </div>
  );
}

const LX = 161;
const LW = 655;
const RX = 919;
const RW = 649;

const thin = 2.8;
const thick = 5.6;

export default function App() {
  const dashBlack = '9 8';
  const noiseDash = '7 5';
  return (
    <div style={{ position: 'absolute', left: 0, top: 0, width: 1610, height: 1403, background: '#fff', fontFamily: FONT }}>
      <Panel
        left={LX} top={160} width={LW} height={243} domain={[-30, 25]} ticks={[-20, 0, 20]}
        lines={[
          { data: noiseRows(aNoise), color: GREY, width: 1.6, dash: noiseDash },
          { data: rows(aGreen), color: GREEN, width: thin },
          { data: rows(aBlue), color: BLUE, width: thin },
          { data: rows(aRed), color: RED, width: thin },
        ]}
      />
      <Panel
        left={RX} top={160} width={RW} height={243} domain={[-30, 25]} ticks={[-20, 0, 20]}
        lines={[
          { data: noiseRows(bNoise), color: GREY, width: 1.6, dash: noiseDash },
          { data: rows(bGreen), color: GREEN, width: thick },
          { data: rows(bRed), color: RED, width: thick },
          { data: rows(bBlue), color: BLUE, width: thick },
        ]}
      />
      <Panel
        left={LX} top={425} width={LW} height={181} domain={[-10, 0.5]} ticks={[-10, -5, 0]}
        lines={[
          { data: rows(slope10ms), color: '#000', width: 1.5, dash: dashBlack },
          { data: rows(cGreen), color: GREEN, width: thin },
          { data: rows(cBlue), color: BLUE, width: thin },
          { data: rows(cRed), color: RED, width: thin },
        ]}
        arrow={{ from: [1546, -2.9], to: [1515, -6.8] }}
      />
      <Panel
        left={RX} top={425} width={RW} height={181} domain={[-10, 0.5]} ticks={[-10, -5, 0]}
        lines={[
          { data: rows(dGreen), color: GREEN, width: thick },
          { data: rows(dBlue), color: BLUE, width: thick },
          { data: rows(dRed), color: RED, width: thick },
          { data: rows(slope10ms), color: '#000', width: 1.5, dash: dashBlack },
        ]}
      />
      <Panel
        left={LX} top={606} width={LW} height={361} domain={[-10, 55]} ticks={[0, 10, 20]}
        lines={[
          { data: rows(eGreen), color: GREEN, width: thin },
          { data: rows(eBlue), color: BLUE, width: thin },
          { data: rows(eRed), color: RED, width: thin },
        ]}
      />
      <Panel
        left={RX} top={606} width={RW} height={361} domain={[-10, 55]} ticks={[0, 10, 20]}
        lines={[
          { data: rows(fGreen), color: GREEN, width: thick },
          { data: rows(fBlue), color: BLUE, width: thick },
          { data: rows(fRed), color: RED, width: thick },
        ]}
      />
      <Panel left={LX} top={975} width={LW} height={326} domain={[-116, 118]} ticks={[-90, 0, 90]} dots={rows(gAlpha)} bottom />
      <Panel left={RX} top={975} width={RW} height={326} domain={[-116, 118]} ticks={[-90, 0, 90]} dots={rows(hAlpha)} bottom />

      <svg width={1610} height={1403} style={{ position: 'absolute', left: 0, top: 0, pointerEvents: 'none' }} fontFamily={FONT}>
        <g fontWeight="bold" fontSize={36} textAnchor="middle" dominantBaseline="central">
          <text x={422} y={19}>20 dB SPL Probe</text>
          <text x={1244} y={19}>40 dB SPL Probe</text>
          <text x={219} y={151}>A</text>
          <text x={983} y={151}>B</text>
          <text x={221} y={536}>C</text>
          <text x={984} y={536}>D</text>
          <text x={219} y={750}>E</text>
          <text x={983} y={741}>F</text>
          <text x={221} y={1039}>G</text>
          <text x={984} y={1037}>H</text>
        </g>
        <g fontSize={36} textAnchor="middle" dominantBaseline="central">
          <text transform="translate(70,264) rotate(-90)">Level (dB SPL)</text>
          <text transform="translate(70,523) rotate(-90)">Phase (cyc)</text>
          <text transform="translate(19,840) rotate(-90)">Phase-Gradient</text>
          <text transform="translate(70,840) rotate(-90)">Delay (ms)</text>
          <text transform="translate(70,1132) rotate(-90)">
            <tspan fontSize={44}>α</tspan> (deg)
          </text>
          <text x={494} y={1376} fontSize={37}>Frequency (Hz)</text>
          <text x={1258} y={1376} fontSize={37}>Frequency (Hz)</text>
        </g>
        <text x={672} y={464} fontSize={29} textAnchor="middle" dominantBaseline="central">10 ms</text>
        <g fontSize={26} dominantBaseline="central">
          <line x1={563} x2={606} y1={99.5} y2={99.5} stroke={BLUE} strokeWidth={5} />
          <text x={619} y={99.5}>Baseline SFOAE</text>
          <line x1={563} x2={606} y1={131} y2={131} stroke={RED} strokeWidth={5} />
          <text x={619} y={131}>SFOAEmoc</text>
          <line x1={563} x2={606} y1={162.5} y2={162.5} stroke={GREEN} strokeWidth={5} />
          <text x={619} y={162.5}>ΔP</text>
          <line x1={563} x2={606} y1={194} y2={194} stroke={GREY} strokeWidth={2.5} strokeDasharray="12 9" />
          <text x={619} y={194}>Noise Floor</text>
        </g>
      </svg>
    </div>
  );
}
